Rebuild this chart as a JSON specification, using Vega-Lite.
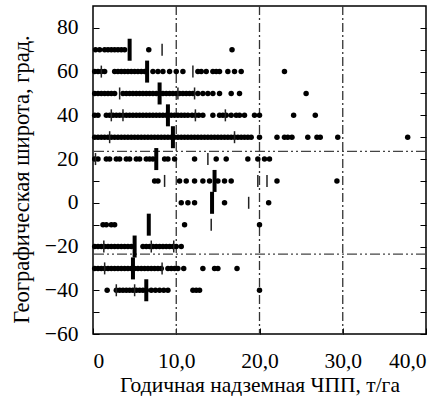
{
  "$schema": "https://vega.github.io/schema/vega-lite/v6.json",
  "width": 333,
  "height": 328,
  "autosize": {"type": "none"},
  "padding": {"left": 93, "top": 6, "right": 22, "bottom": 62},
  "background": "white",
  "config": {
    "view": {"stroke": "black", "strokeWidth": 1.5},
    "font": "Liberation Serif",
    "axis": {
      "labelFont": "Liberation Serif",
      "titleFont": "Liberation Serif",
      "labelFontSize": 21.5,
      "titleFontSize": 21.5,
      "titleFontWeight": "normal",
      "labelColor": "black",
      "titleColor": "black",
      "tickColor": "black",
      "grid": false,
      "domain": false
    }
  },
  "datasets": {
    "pts": [
      {"lat": 70, "npp": 0.3}, {"lat": 70, "npp": 0.8}, {"lat": 70, "npp": 1.4}, {"lat": 70, "npp": 1.8}, {"lat": 70, "npp": 2.2}, {"lat": 70, "npp": 2.6}, {"lat": 70, "npp": 3.0}, {"lat": 70, "npp": 3.4}, {"lat": 70, "npp": 3.8}, {"lat": 70, "npp": 6.7}, {"lat": 70, "npp": 16.7},
      {"lat": 60, "npp": 0.2}, {"lat": 60, "npp": 0.6}, {"lat": 60, "npp": 1.0}, {"lat": 60, "npp": 1.4}, {"lat": 60, "npp": 2.6}, {"lat": 60, "npp": 3.0}, {"lat": 60, "npp": 3.4}, {"lat": 60, "npp": 3.8}, {"lat": 60, "npp": 4.2}, {"lat": 60, "npp": 4.6}, {"lat": 60, "npp": 5.0}, {"lat": 60, "npp": 5.4}, {"lat": 60, "npp": 5.8}, {"lat": 60, "npp": 6.2},
      {"lat": 60, "npp": 7.2}, {"lat": 60, "npp": 7.8}, {"lat": 60, "npp": 8.4}, {"lat": 60, "npp": 9.2}, {"lat": 60, "npp": 10.0}, {"lat": 60, "npp": 10.8}, {"lat": 60, "npp": 12.6}, {"lat": 60, "npp": 13.0}, {"lat": 60, "npp": 13.6}, {"lat": 60, "npp": 14.4}, {"lat": 60, "npp": 14.8}, {"lat": 60, "npp": 15.2}, {"lat": 60, "npp": 16.2}, {"lat": 60, "npp": 17.0}, {"lat": 60, "npp": 17.8}, {"lat": 60, "npp": 23.0},
      {"lat": 50, "npp": 0.2}, {"lat": 50, "npp": 0.6}, {"lat": 50, "npp": 1.0}, {"lat": 50, "npp": 1.4}, {"lat": 50, "npp": 1.8}, {"lat": 50, "npp": 2.2}, {"lat": 50, "npp": 2.6}, {"lat": 50, "npp": 3.6}, {"lat": 50, "npp": 4.0}, {"lat": 50, "npp": 4.4}, {"lat": 50, "npp": 4.8}, {"lat": 50, "npp": 5.2}, {"lat": 50, "npp": 5.6}, {"lat": 50, "npp": 6.0}, {"lat": 50, "npp": 6.4}, {"lat": 50, "npp": 6.8}, {"lat": 50, "npp": 7.2}, {"lat": 50, "npp": 7.6}, {"lat": 50, "npp": 8.0}, {"lat": 50, "npp": 8.4}, {"lat": 50, "npp": 8.8}, {"lat": 50, "npp": 9.2}, {"lat": 50, "npp": 9.6}, {"lat": 50, "npp": 10.0}, {"lat": 50, "npp": 10.4}, {"lat": 50, "npp": 10.8}, {"lat": 50, "npp": 11.2}, {"lat": 50, "npp": 11.6}, {"lat": 50, "npp": 12.0}, {"lat": 50, "npp": 12.6},
      {"lat": 50, "npp": 13.2}, {"lat": 50, "npp": 13.8}, {"lat": 50, "npp": 14.4}, {"lat": 50, "npp": 15.2}, {"lat": 50, "npp": 16.6}, {"lat": 50, "npp": 17.6}, {"lat": 50, "npp": 25.6},
      {"lat": 40, "npp": 0.2}, {"lat": 40, "npp": 0.6}, {"lat": 40, "npp": 1.6}, {"lat": 40, "npp": 2.0}, {"lat": 40, "npp": 2.4}, {"lat": 40, "npp": 2.8}, {"lat": 40, "npp": 3.2}, {"lat": 40, "npp": 3.6}, {"lat": 40, "npp": 4.0}, {"lat": 40, "npp": 4.4}, {"lat": 40, "npp": 4.8}, {"lat": 40, "npp": 5.2}, {"lat": 40, "npp": 5.6}, {"lat": 40, "npp": 6.0}, {"lat": 40, "npp": 6.4}, {"lat": 40, "npp": 6.8}, {"lat": 40, "npp": 7.2}, {"lat": 40, "npp": 7.6}, {"lat": 40, "npp": 8.0}, {"lat": 40, "npp": 8.4}, {"lat": 40, "npp": 8.8}, {"lat": 40, "npp": 9.4}, {"lat": 40, "npp": 9.8}, {"lat": 40, "npp": 10.2}, {"lat": 40, "npp": 10.6}, {"lat": 40, "npp": 11.0}, {"lat": 40, "npp": 11.4}, {"lat": 40, "npp": 11.9}, {"lat": 40, "npp": 12.3}, {"lat": 40, "npp": 12.7}, {"lat": 40, "npp": 13.2},
      {"lat": 40, "npp": 14.4}, {"lat": 40, "npp": 15.2}, {"lat": 40, "npp": 15.6}, {"lat": 40, "npp": 16.0}, {"lat": 40, "npp": 16.6}, {"lat": 40, "npp": 17.2}, {"lat": 40, "npp": 17.6}, {"lat": 40, "npp": 18.2}, {"lat": 40, "npp": 19.4}, {"lat": 40, "npp": 20.0}, {"lat": 40, "npp": 24.1}, {"lat": 40, "npp": 26.7},
      {"lat": 30, "npp": 0.2}, {"lat": 30, "npp": 0.6}, {"lat": 30, "npp": 1.0}, {"lat": 30, "npp": 1.4}, {"lat": 30, "npp": 1.8}, {"lat": 30, "npp": 2.2}, {"lat": 30, "npp": 2.6}, {"lat": 30, "npp": 3.0}, {"lat": 30, "npp": 3.4}, {"lat": 30, "npp": 3.8}, {"lat": 30, "npp": 4.2}, {"lat": 30, "npp": 4.6}, {"lat": 30, "npp": 5.0}, {"lat": 30, "npp": 5.4}, {"lat": 30, "npp": 5.8}, {"lat": 30, "npp": 6.2}, {"lat": 30, "npp": 6.6}, {"lat": 30, "npp": 7.0}, {"lat": 30, "npp": 7.4}, {"lat": 30, "npp": 7.8}, {"lat": 30, "npp": 8.2}, {"lat": 30, "npp": 8.6}, {"lat": 30, "npp": 9.0}, {"lat": 30, "npp": 9.4}, {"lat": 30, "npp": 9.8}, {"lat": 30, "npp": 10.2}, {"lat": 30, "npp": 10.6}, {"lat": 30, "npp": 11.0}, {"lat": 30, "npp": 11.4}, {"lat": 30, "npp": 11.8}, {"lat": 30, "npp": 12.2}, {"lat": 30, "npp": 12.6}, {"lat": 30, "npp": 13.0}, {"lat": 30, "npp": 13.4}, {"lat": 30, "npp": 13.8}, {"lat": 30, "npp": 14.2}, {"lat": 30, "npp": 14.6}, {"lat": 30, "npp": 15.0}, {"lat": 30, "npp": 15.4}, {"lat": 30, "npp": 15.8}, {"lat": 30, "npp": 16.2}, {"lat": 30, "npp": 16.6}, {"lat": 30, "npp": 17.0}, {"lat": 30, "npp": 17.4}, {"lat": 30, "npp": 17.8}, {"lat": 30, "npp": 18.2}, {"lat": 30, "npp": 18.6}, {"lat": 30, "npp": 19.0},
      {"lat": 30, "npp": 20.0}, {"lat": 30, "npp": 22.1}, {"lat": 30, "npp": 23.0}, {"lat": 30, "npp": 23.4}, {"lat": 30, "npp": 23.9}, {"lat": 30, "npp": 25.8}, {"lat": 30, "npp": 26.9}, {"lat": 30, "npp": 27.3}, {"lat": 30, "npp": 29.4}, {"lat": 30, "npp": 37.8},
      {"lat": 20, "npp": 0.2}, {"lat": 20, "npp": 0.6}, {"lat": 20, "npp": 1.6}, {"lat": 20, "npp": 2.0}, {"lat": 20, "npp": 2.8}, {"lat": 20, "npp": 3.2}, {"lat": 20, "npp": 4.0}, {"lat": 20, "npp": 4.4}, {"lat": 20, "npp": 5.2}, {"lat": 20, "npp": 5.6}, {"lat": 20, "npp": 6.4}, {"lat": 20, "npp": 6.8}, {"lat": 20, "npp": 7.2}, {"lat": 20, "npp": 8.6}, {"lat": 20, "npp": 9.0}, {"lat": 20, "npp": 9.8}, {"lat": 20, "npp": 12.2}, {"lat": 20, "npp": 14.8}, {"lat": 20, "npp": 16.0}, {"lat": 20, "npp": 18.6}, {"lat": 20, "npp": 19.8}, {"lat": 20, "npp": 20.6}, {"lat": 20, "npp": 21.2},
      {"lat": 10, "npp": 7.4}, {"lat": 10, "npp": 7.8}, {"lat": 10, "npp": 10.4}, {"lat": 10, "npp": 11.2}, {"lat": 10, "npp": 12.2}, {"lat": 10, "npp": 13.2}, {"lat": 10, "npp": 14.0}, {"lat": 10, "npp": 15.0}, {"lat": 10, "npp": 15.8}, {"lat": 10, "npp": 16.6}, {"lat": 10, "npp": 22.1}, {"lat": 10, "npp": 29.3},
      {"lat": 0, "npp": 10.6}, {"lat": 0, "npp": 11.4}, {"lat": 0, "npp": 12.2}, {"lat": 0, "npp": 15.8}, {"lat": 0, "npp": 21.1},
      {"lat": -10, "npp": 1.2}, {"lat": -10, "npp": 1.6}, {"lat": -10, "npp": 2.2}, {"lat": -10, "npp": 2.6}, {"lat": -10, "npp": 11.0}, {"lat": -10, "npp": 20.0},
      {"lat": -20, "npp": 0.2}, {"lat": -20, "npp": 0.6}, {"lat": -20, "npp": 1.0}, {"lat": -20, "npp": 1.4}, {"lat": -20, "npp": 1.8}, {"lat": -20, "npp": 2.2}, {"lat": -20, "npp": 2.6}, {"lat": -20, "npp": 3.0}, {"lat": -20, "npp": 3.4}, {"lat": -20, "npp": 3.8}, {"lat": -20, "npp": 4.2}, {"lat": -20, "npp": 4.6}, {"lat": -20, "npp": 6.0}, {"lat": -20, "npp": 6.4}, {"lat": -20, "npp": 6.8}, {"lat": -20, "npp": 7.2}, {"lat": -20, "npp": 7.6}, {"lat": -20, "npp": 8.0}, {"lat": -20, "npp": 8.4}, {"lat": -20, "npp": 8.8}, {"lat": -20, "npp": 9.2}, {"lat": -20, "npp": 9.6}, {"lat": -20, "npp": 10.0}, {"lat": -20, "npp": 10.6},
      {"lat": -30, "npp": 0.2}, {"lat": -30, "npp": 0.6}, {"lat": -30, "npp": 1.0}, {"lat": -30, "npp": 1.4}, {"lat": -30, "npp": 1.8}, {"lat": -30, "npp": 2.2}, {"lat": -30, "npp": 2.6}, {"lat": -30, "npp": 3.0}, {"lat": -30, "npp": 3.4}, {"lat": -30, "npp": 3.8}, {"lat": -30, "npp": 4.2}, {"lat": -30, "npp": 4.6}, {"lat": -30, "npp": 5.0}, {"lat": -30, "npp": 5.4}, {"lat": -30, "npp": 5.8}, {"lat": -30, "npp": 6.2}, {"lat": -30, "npp": 6.6}, {"lat": -30, "npp": 7.0}, {"lat": -30, "npp": 7.4}, {"lat": -30, "npp": 7.8}, {"lat": -30, "npp": 8.2}, {"lat": -30, "npp": 9.0}, {"lat": -30, "npp": 9.4}, {"lat": -30, "npp": 9.8}, {"lat": -30, "npp": 10.2}, {"lat": -30, "npp": 10.9}, {"lat": -30, "npp": 13.2}, {"lat": -30, "npp": 14.6}, {"lat": -30, "npp": 15.0}, {"lat": -30, "npp": 17.3},
      {"lat": -40, "npp": 1.7}, {"lat": -40, "npp": 2.8}, {"lat": -40, "npp": 3.2}, {"lat": -40, "npp": 3.6}, {"lat": -40, "npp": 4.0}, {"lat": -40, "npp": 4.4}, {"lat": -40, "npp": 4.8}, {"lat": -40, "npp": 5.2}, {"lat": -40, "npp": 5.6}, {"lat": -40, "npp": 6.0}, {"lat": -40, "npp": 6.4}, {"lat": -40, "npp": 7.0}, {"lat": -40, "npp": 7.5}, {"lat": -40, "npp": 8.0}, {"lat": -40, "npp": 8.5}, {"lat": -40, "npp": 9.0}, {"lat": -40, "npp": 12.0}, {"lat": -40, "npp": 12.4}, {"lat": -40, "npp": 12.8}, {"lat": -40, "npp": 20.0}
    ],
    "means": [
      {"lat": 70, "npp": 4.4}, {"lat": 60, "npp": 6.5}, {"lat": 50, "npp": 8.0}, {"lat": 40, "npp": 9.0}, {"lat": 30, "npp": 9.6}, {"lat": 20, "npp": 7.6},
      {"lat": 10, "npp": 14.6}, {"lat": 0, "npp": 14.3}, {"lat": -10, "npp": 6.7}, {"lat": -20, "npp": 5.0}, {"lat": -30, "npp": 4.8}, {"lat": -40, "npp": 6.4}
    ],
    "marks": [
      {"lat": 70, "npp": 8.3}, {"lat": 60, "npp": 1.0}, {"lat": 60, "npp": 12.0}, {"lat": 50, "npp": 3.2}, {"lat": 50, "npp": 10.2}, {"lat": 50, "npp": 12.2},
      {"lat": 40, "npp": 2.2}, {"lat": 40, "npp": 3.6}, {"lat": 40, "npp": 12.3}, {"lat": 40, "npp": 15.9}, {"lat": 30, "npp": 2.0}, {"lat": 30, "npp": 17.0},
      {"lat": 20, "npp": 0.3}, {"lat": 20, "npp": 13.8}, {"lat": 10, "npp": 8.6}, {"lat": 10, "npp": 19.8}, {"lat": 10, "npp": 20.9}, {"lat": 0, "npp": 18.7},
      {"lat": -10, "npp": 14.2}, {"lat": -20, "npp": 1.3}, {"lat": -20, "npp": 7.0}, {"lat": -20, "npp": 9.7}, {"lat": -30, "npp": 1.4}, {"lat": -30, "npp": 8.3},
      {"lat": -40, "npp": 2.8}, {"lat": -40, "npp": 5.0}
    ],
    "vlines": [{"npp": 10}, {"npp": 20}, {"npp": 30}],
    "hlines": [{"lat": 23.5}, {"lat": -23.5}]
  },
  "resolve": {"axis": {"y": "independent", "x": "independent"}},
  "layer": [
    {
      "data": {"name": "vlines"},
      "mark": {"type": "rule", "color": "#333", "strokeWidth": 1.3, "strokeDash": [9, 3, 2, 3]},
      "encoding": {
        "x": {"field": "npp", "type": "quantitative", "scale": {"domain": [0, 40], "nice": false},
          "axis": {"orient": "bottom", "values": [0, 10, 20, 30, 40], "tickSize": -6, "labelPadding": 22,
            "labelExpr": "datum.value == 0 ? '0' : replace(format(datum.value, '.1f'), '.', ',')",
            "title": "Годичная надземная ЧПП, т/га", "titlePadding": 3}}
      }
    },
    {
      "data": {"name": "hlines"},
      "mark": {"type": "rule", "color": "#444", "strokeWidth": 1.3, "strokeDash": [10, 3, 2, 3, 2, 3]},
      "encoding": {
        "y": {"field": "lat", "type": "quantitative", "scale": {"domain": [-60, 90], "nice": false},
          "axis": {"orient": "left", "values": [-60, -50, -40, -30, -20, -10, 0, 10, 20, 30, 40, 50, 60, 70, 80],
            "tickSize": -6, "labelPadding": 21,
            "labelExpr": "datum.value % 20 == 0 ? datum.label : ''",
            "title": "Географическая широта, град.", "titlePadding": 11, "titleFontSize": 22.5, "titleY": 173}}
      }
    },
    {
      "data": {"name": "hlines"},
      "mark": {"type": "rule", "opacity": 0},
      "encoding": {
        "y": {"field": "lat", "type": "quantitative",
          "axis": {"orient": "right", "values": [-60, -50, -40, -30, -20, -10, 0, 10, 20, 30, 40, 50, 60, 70, 80],
            "tickSize": -6, "labels": false, "title": null}}
      }
    },
    {
      "data": {"name": "pts"},
      "mark": {"type": "circle", "color": "black", "opacity": 1, "size": 30},
      "encoding": {
        "x": {"field": "npp", "type": "quantitative", "axis": null},
        "y": {"field": "lat", "type": "quantitative", "axis": null}
      }
    },
    {
      "data": {"name": "marks"},
      "mark": {"type": "tick", "orient": "vertical", "color": "#222", "size": 12, "thickness": 1.5, "opacity": 1},
      "encoding": {
        "x": {"field": "npp", "type": "quantitative", "axis": null},
        "y": {"field": "lat", "type": "quantitative", "axis": null}
      }
    },
    {
      "data": {"name": "means"},
      "mark": {"type": "tick", "orient": "vertical", "color": "black", "size": 22, "thickness": 4, "opacity": 1},
      "encoding": {
        "x": {"field": "npp", "type": "quantitative", "axis": null},
        "y": {"field": "lat", "type": "quantitative", "axis": null}
      }
    }
  ]
}
